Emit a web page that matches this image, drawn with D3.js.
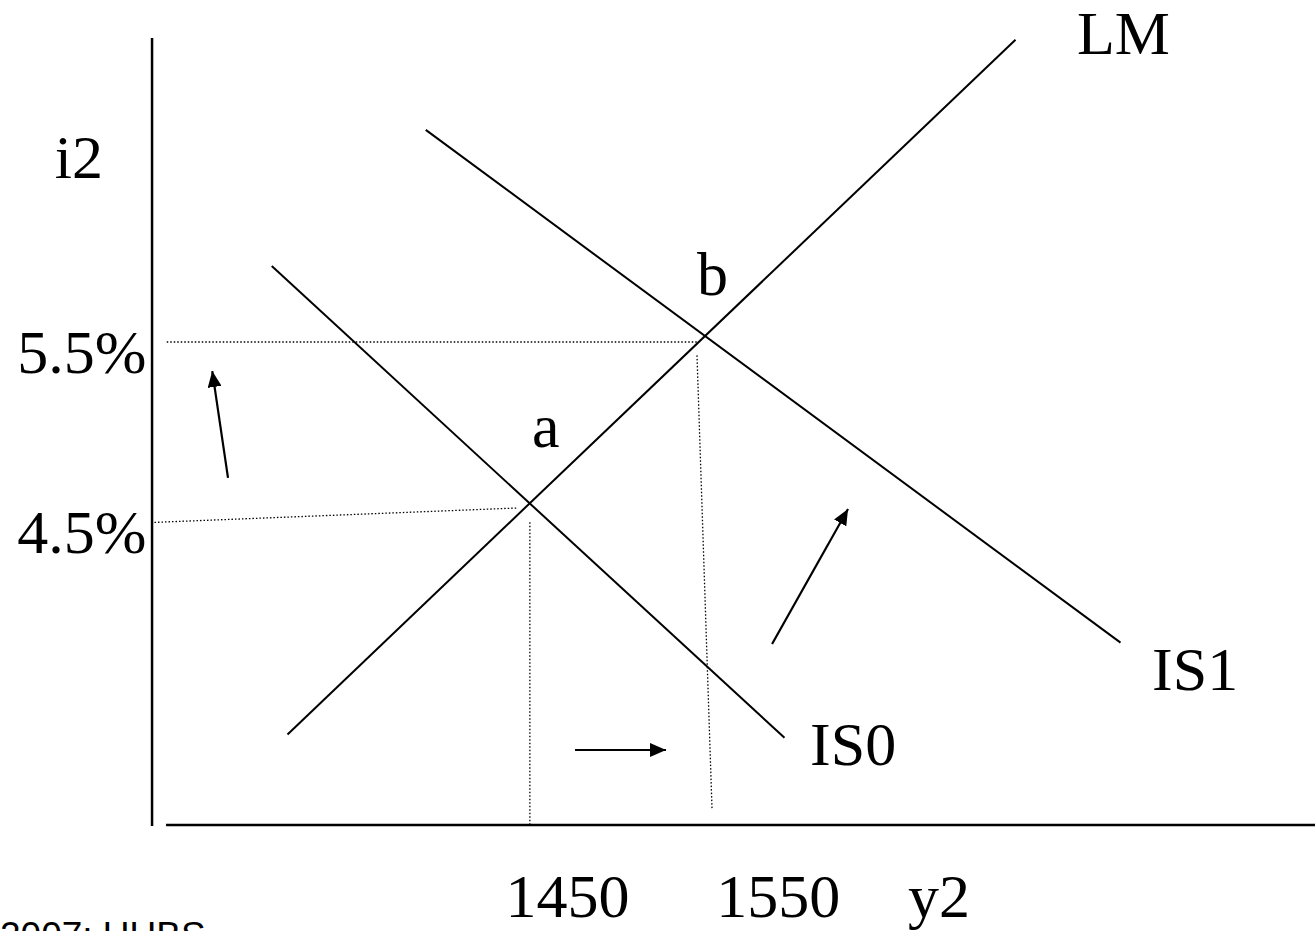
<!DOCTYPE html>
<html>
<head>
<meta charset="utf-8">
<script src="https://cdn.jsdelivr.net/npm/d3@7"></script>
<style>
  html, body { margin: 0; padding: 0; background: #fff; overflow: hidden; }
  svg { display: block; }
</style>
</head>
<body>
<svg id="chart" width="1315" height="931"></svg>
<script>
// ---- Data (output y, interest rate i in %) ----
const curveNames = ["LM", "IS0", "IS1"];
const lmCurve  = [[1312, 3.12], [1728, 7.28]];
const is0Curve = [[1303, 5.925], [1596, 3.10]];
const is1Curve = [[1391, 6.74], [1788, 3.67]];

const equilibriumLabels = ["a", "b"];
const equilibriumY = [1450, 1550];
const equilibriumI = [4.5, 5.5];

// dotted guide lines
const guide55   = [[1243, 5.47], [1547, 5.47]];
const guide45   = [[1236, 4.39], [1443, 4.476]];
const guide1450 = [[1450.5, 4.39], [1450.5, 2.578]];
const guide1550 = [[1546, 5.39], [1554.6, 2.668]];

// shift arrows [tail, tip]
const arrowUp    = [[1278, 4.656], [1269, 5.296]];
const arrowRight = [[1476.3, 3.027], [1528.3, 3.027]];
const arrowShift = [[1588.9, 3.662], [1632.3, 4.47]];

// axes extents
const yAxisLine = [[1234.6, 7.29], [1234.6, 2.572]];
const xAxisLine = [[1242.6, 2.578], [1900, 2.578]];

// tick labels
const xTickLabels = ["1450", "1550"];
const xTickPos = [1436.5, 1557];
const xAxisTitle = "y2";
const yTickLabels = ["5.5%", "4.5%"];
const yTickPos = [5.284, 4.207];
const yAxisTitle = "i2";

// label anchors (data units)
const curveLabelPos = [[1763.1, 7.195], [1610.6, 2.937], [1806, 3.386]];
const pointLabelPos = [[1451.7, 4.841], [1546, 5.751]];
const credit = "2007: UUBS";

// ---- Scales ----
const x = d3.scaleLinear().domain([1450, 1550]).range([529, 704]);
const y = d3.scaleLinear().domain([4.5, 5.5]).range([504, 337]);

const svg = d3.select("#chart");
const serif = "'Liberation Serif', 'Times New Roman', serif";
const FS = 62;

svg.append("defs").append("marker")
  .attr("id", "ah")
  .attr("markerUnits", "userSpaceOnUse")
  .attr("viewBox", "0 0 16 14")
  .attr("refX", 16).attr("refY", 7)
  .attr("markerWidth", 16).attr("markerHeight", 14)
  .attr("orient", "auto")
  .append("path").attr("d", "M0,0 L16,7 L0,14 Z").attr("fill", "#000");

const line = d3.line().x(d => x(d[0])).y(d => y(d[1]));

// axes
[yAxisLine, xAxisLine].forEach(seg => {
  svg.append("path").attr("d", line(seg))
    .attr("stroke", "#000").attr("stroke-width", 2.5).attr("fill", "none");
});

// dotted guides
[guide55, guide45, guide1450, guide1550].forEach(seg => {
  svg.append("path").attr("d", line(seg))
    .attr("stroke", "#000").attr("stroke-width", 1.3)
    .attr("stroke-dasharray", "1.5,2").attr("fill", "none");
});

// curves
[lmCurve, is0Curve, is1Curve].forEach(seg => {
  svg.append("path").attr("d", line(seg))
    .attr("stroke", "#000").attr("stroke-width", 2).attr("fill", "none");
});

// arrows
[arrowUp, arrowRight, arrowShift].forEach(seg => {
  svg.append("path").attr("d", line(seg))
    .attr("stroke", "#000").attr("stroke-width", 2.2).attr("fill", "none")
    .attr("marker-end", "url(#ah)");
});

function label(txt, px, py) {
  svg.append("text").attr("x", px).attr("y", py)
    .attr("font-family", serif).attr("font-size", FS).attr("fill", "#000")
    .text(txt);
}

curveNames.forEach((n, k) => label(n, x(curveLabelPos[k][0]), y(curveLabelPos[k][1])));
equilibriumLabels.forEach((n, k) => label(n, x(pointLabelPos[k][0]), y(pointLabelPos[k][1])));
xTickLabels.forEach((t, k) => label(t, x(xTickPos[k]), y(2.027)));
label(xAxisTitle, x(1666.6), y(2.027));
yTickLabels.forEach((t, k) => label(t, x(1157.5), y(yTickPos[k])));
label(yAxisTitle, x(1179), y(6.452));

svg.append("text").attr("x", 0).attr("y", 948)
  .attr("font-family", "'Liberation Sans', Arial, sans-serif")
  .attr("font-size", 37).attr("fill", "#000")
  .text(credit);
</script>
</body>
</html>
